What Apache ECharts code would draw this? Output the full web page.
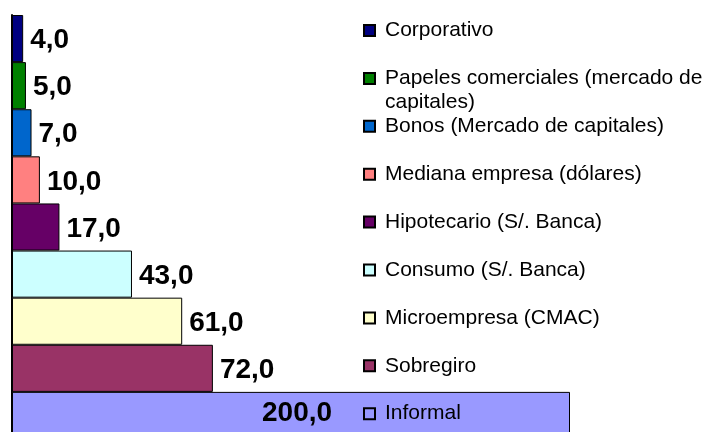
<!DOCTYPE html>
<html>
<head>
<meta charset="utf-8">
<script src="https://cdn.jsdelivr.net/npm/echarts@6/dist/echarts.min.js"></script>
<style>
  html, body { margin: 0; padding: 0; background: #fff; }
  #main { width: 711px; height: 432px; }
</style>
</head>
<body>
<div id="main"></div>
<script>
const categories = [
  'Corporativo',
  'Papeles comerciales (mercado de capitales)',
  'Bonos (Mercado de capitales)',
  'Mediana empresa (dólares)',
  'Hipotecario (S/. Banca)',
  'Consumo (S/. Banca)',
  'Microempresa (CMAC)',
  'Sobregiro',
  'Informal'
]
const values = [4, 5, 7, 10, 17, 43, 61, 72, 200]
const colorList = [
  '#000080',
  '#008000',
  '#0066CC',
  '#FF8080',
  '#660066',
  '#CCFFFF',
  '#FFFFCC',
  '#993366',
  '#9999FF'
]

const font = "'Liberation Sans', Arial, sans-serif"
const chart = echarts.init(document.getElementById('main'))

// one stacked series per category so each gets its own legend entry
let series = categories.map(function(name, i) {
  let isLast = i === categories.length - 1
  return {
    name: name,
    type: 'bar',
    stack: 'all',
    barWidth: '100%',
    data: categories.map(function(c, j) { return j === i ? values[i] : '-' }),
    itemStyle: {
      color: colorList[i],
      borderColor: '#000',
      borderWidth: 1
    },
    label: {
      show: true,
      position: isLast ? [250, 19] : 'right',
      align: 'left',
      verticalAlign: 'middle',
      distance: 7,
      offset: [0, 2],
      fontSize: 28,
      fontWeight: 'bold',
      fontFamily: font,
      color: '#000',
      formatter: function(p) {
        return p.value.toFixed(1).replace('.', ',')
      }
    }
  }
})

let option = {
  animation: false,
  grid: {
    left: 12,
    top: 15,
    width: 558,
    height: 424,
    outerBoundsMode: 'none'
  },
  xAxis: {
    type: 'value',
    min: 0,
    max: 200,
    show: false
  },
  yAxis: {
    type: 'category',
    data: categories,
    inverse: true,
    axisLine: { show: true, lineStyle: { color: '#000', width: 2 } },
    axisTick: { show: false },
    axisLabel: { show: false }
  },
  legend: {
    orient: 'vertical',
    left: 363,
    top: 20,
    padding: 0,
    itemWidth: 11,
    itemHeight: 11,
    itemGap: 26.9,
    icon: 'rect',
    data: categories,
    textStyle: {
      fontFamily: font,
      fontSize: 21,
      lineHeight: 20,
      color: '#000',
      padding: [0, 0, 0, 5]
    },
    formatter: function(name) {
      return name === categories[1] ? 'Papeles comerciales (mercado de' : name
    }
  },
  graphic: [{
    type: 'text',
    left: 385,
    top: 92,
    style: {
      text: 'capitales)',
      font: '21px ' + font,
      fill: '#000'
    }
  }],
  series: series
}

chart.setOption(option)
</script>
</body>
</html>
